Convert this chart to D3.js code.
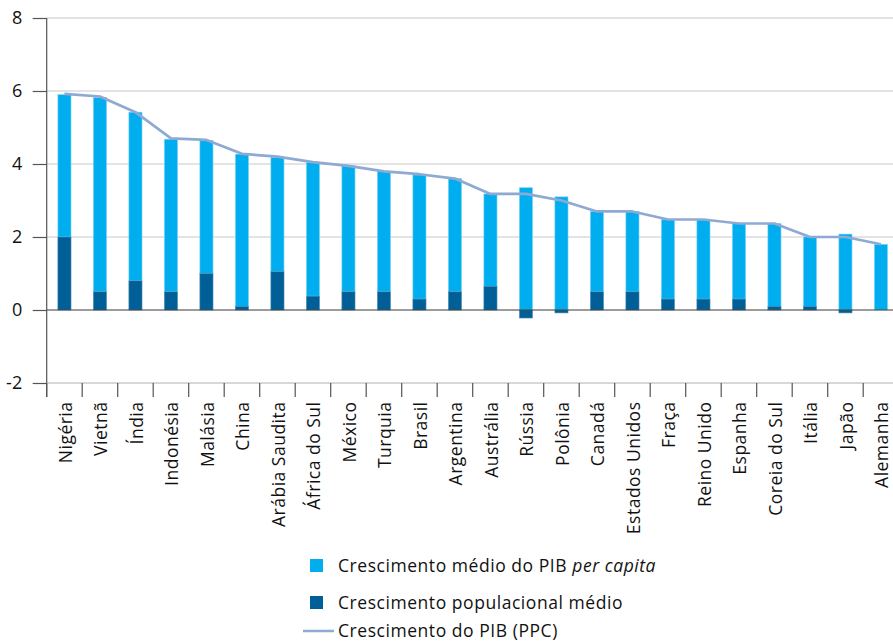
<!DOCTYPE html>
<html><head><meta charset="utf-8">
<script src="https://cdn.jsdelivr.net/npm/d3@7"></script>
<style>
html,body{margin:0;padding:0;background:#fff;}
svg{display:block;font-family:"Open Sans",sans-serif;}
</style></head>
<body>
<svg id="chart" width="893" height="641"></svg>
<script>
const categories = ["Nigéria","Vietnã","Índia","Indonésia","Malásia","China","Arábia Saudita","África do Sul","México","Turquia","Brasil","Argentina","Austrália","Rússia","Polônia","Canadá","Estados Unidos","Fraça","Reino Unido","Espanha","Coreia do Sul","Itália","Japão","Alemanha"];
const perCapita = [3.9,5.32,4.62,4.18,3.65,4.17,3.13,3.67,3.45,3.3,3.4,3.1,2.53,3.35,3.1,2.2,2.2,2.18,2.18,2.07,2.27,1.9,2.08,1.8];
const population = [2.0,0.5,0.8,0.5,1.0,0.1,1.05,0.38,0.5,0.5,0.3,0.5,0.65,-0.22,-0.08,0.5,0.5,0.3,0.3,0.3,0.1,0.1,-0.08,0.0];
const gdpPPP = [5.92,5.85,5.42,4.7,4.66,4.28,4.2,4.05,3.95,3.8,3.72,3.6,3.18,3.18,3.0,2.7,2.7,2.48,2.48,2.37,2.37,2.0,2.0,1.8];
const yTicks = [-2,0,2,4,6,8];
const yTickLabels = ["-2","0","2","4","6","8"];
const legendLabels = ["Crescimento médio do PIB ", "Crescimento populacional médio", "Crescimento do PIB (PPC)"];

const cLight = "#00aeef", cDark = "#005f96", cLine = "#8eaad2";
const svg = d3.select("#chart");
const mLeft = 46.7, mTop = 18, mBottom = 383;
const x = d3.scaleBand().domain(categories).range([mLeft, mLeft + 35.5*categories.length]).padding(0);
const y = d3.scaleLinear().domain([-2, 8]).range([mBottom, mTop]);
const bw = x.bandwidth()*0.37;
const cx = d => x(d) + x.bandwidth()/2;

// gridlines
svg.append("g").selectAll("line").data(yTicks.filter(t => t > 0)).join("line")
  .attr("x1", mLeft).attr("x2", 893).attr("y1", d => y(d)).attr("y2", d => y(d))
  .attr("stroke", "#c8c8c8").attr("stroke-width", 1);

// bars
const g = svg.append("g");
categories.forEach((c, i) => {
  const p = population[i], pc = perCapita[i];
  const pBase = p > 0 ? p : 0;
  g.append("rect").attr("x", cx(c) - bw/2).attr("width", bw)
    .attr("y", y(pBase + pc)).attr("height", y(pBase) - y(pBase + pc))
    .attr("fill", cLight).attr("stroke", "#7fd3f5").attr("stroke-width", 0.6);
  if (p !== 0) {
    g.append("rect").attr("x", cx(c) - bw/2).attr("width", bw)
      .attr("y", y(Math.max(p, 0))).attr("height", Math.abs(y(p) - y(0)))
      .attr("fill", cDark).attr("stroke", "#4d8fb6").attr("stroke-width", 0.6);
  }
});

// zero line
svg.append("line").attr("x1", mLeft).attr("x2", 893).attr("y1", y(0)).attr("y2", y(0))
  .attr("stroke", "#3a3a3a").attr("stroke-width", 1.2);

// line
svg.append("path").datum(gdpPPP)
  .attr("d", d3.line().x((d, i) => cx(categories[i])).y(d => y(d)))
  .attr("fill", "none").attr("stroke", cLine).attr("stroke-width", 2.7).attr("stroke-linejoin", "round");

// y axis
const yAxis = svg.append("g").attr("transform", `translate(${mLeft},0)`)
  .call(d3.axisLeft(y).tickValues(yTicks).tickSize(14).tickPadding(6).tickFormat((d, i) => yTickLabels[i]));
yAxis.select(".domain").remove();
yAxis.selectAll(".tick line").attr("stroke", "#555").attr("stroke-width", 1.2);
yAxis.selectAll(".tick text").attr("font-size", 18).attr("fill", "#111").attr("font-family", "Open Sans").attr("x", -24.5);
svg.append("line").attr("x1", mLeft).attr("x2", mLeft).attr("y1", mTop).attr("y2", mBottom + 14)
  .attr("stroke", "#555").attr("stroke-width", 1.2);

// x axis
const xAxis = svg.append("g").attr("transform", `translate(0,${mBottom})`)
  .call(d3.axisBottom(x).tickSize(0).tickPadding(0));
xAxis.select(".domain").remove();
xAxis.selectAll(".tick text")
  .attr("transform", "rotate(-90)").attr("text-anchor", "end")
  .attr("x", -18.5).attr("y", 1).attr("dy", "0.35em")
  .attr("font-size", 17.5).attr("letter-spacing", 0.5).attr("fill", "#111").attr("font-family", "Open Sans");
svg.append("line").attr("x1", mLeft).attr("x2", 893).attr("y1", mBottom).attr("y2", mBottom)
  .attr("stroke", "#b0b0b0").attr("stroke-width", 1);
svg.append("g").selectAll("line").data(categories).join("line")
  .attr("x1", d => x(d)).attr("x2", d => x(d)).attr("y1", mBottom).attr("y2", mBottom + 14)
  .attr("stroke", "#555").attr("stroke-width", 1.2);

// legend
const lg = svg.append("g").attr("font-family", "Open Sans").attr("font-size", 17.5).attr("letter-spacing", 0.55).attr("fill", "#111");
lg.append("rect").attr("x", 310).attr("y", 559).attr("width", 13).attr("height", 13).attr("fill", cLight);
const t1 = lg.append("text").attr("x", 338).attr("y", 572);
t1.append("tspan").text(legendLabels[0]);
t1.append("tspan").attr("font-style", "italic").text("per capita");
lg.append("rect").attr("x", 310).attr("y", 596).attr("width", 13).attr("height", 13).attr("fill", cDark);
lg.append("text").attr("x", 338).attr("y", 609).text(legendLabels[1]);
lg.append("line").attr("x1", 303).attr("x2", 334).attr("y1", 631).attr("y2", 631).attr("stroke", cLine).attr("stroke-width", 2.5);
lg.append("text").attr("x", 338).attr("y", 637).text(legendLabels[2]);
</script>
</body></html>
